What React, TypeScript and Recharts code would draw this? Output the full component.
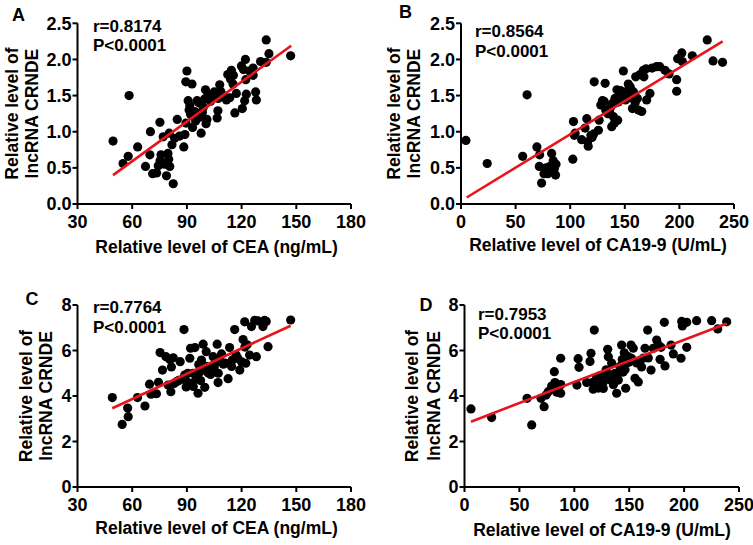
import React from 'react';
import { ScatterChart, Scatter, XAxis, YAxis } from 'recharts';

const FONT = '"Liberation Sans", Arial, Helvetica, sans-serif';

// Panel A: CEA vs CRNDE (0-2.5)
const pointsA = [
  [49.5, 0.87], [55, 0.56], [57.8, 0.66], [58.3, 1.5], [63, 0.79], [67.3, 0.52], [69.7, 0.68], [70, 1.0],
  [71.2, 0.42], [73.4, 0.43], [74.3, 0.53], [75.2, 1.13], [75.8, 0.68], [75.3, 0.6], [77, 0.93], [77.6, 0.55],
  [78.8, 0.39], [79.6, 0.7], [80.3, 0.98], [80.6, 0.52], [80, 0.62], [81.8, 0.82], [82.5, 0.28], [83.3, 0.91],
  [84.7, 1.17], [86, 0.94], [88.3, 0.79], [88.9, 0.96], [89.5, 1.12], [89.4, 1.69], [90, 1.84], [90.7, 1.43],
  [91.2, 1.3], [91.6, 1.36], [92.8, 1.66], [93.1, 1.06], [93.5, 1.22], [94.3, 1.28], [95.6, 1.43], [96, 1.24],
  [97.1, 1.2], [97.8, 0.98], [98.5, 1.27], [99.6, 1.45], [100.2, 1.58], [100.5, 1.11], [101, 1.17], [101.6, 1.52],
  [102.5, 1.48], [104.4, 1.5], [106.6, 1.19], [107, 1.29], [107.2, 1.46], [108, 1.65], [108.5, 1.56], [111.7, 1.44],
  [112.4, 1.79], [113.5, 1.47], [113.9, 1.73], [114.4, 1.85], [115.3, 1.66], [116.3, 1.26], [117.1, 1.53], [119.9, 1.91],
  [120.4, 1.32], [121.7, 1.43], [122.1, 2.0], [122.3, 1.72], [122.6, 1.52], [124.4, 1.84], [126.3, 1.88], [126.3, 1.78],
  [127.7, 1.55], [128.1, 1.44], [130.4, 1.97], [133.5, 2.27], [133.5, 1.96], [135, 2.08], [146.9, 2.05],
  [96.5, 1.4], [103, 1.42], [105, 1.55], [99, 1.34], [94.8, 1.15], [110, 1.5], [115.5, 1.78], [121, 1.86],
  [104.2, 1.46], [92, 1.24],
];
const lineA = [[49.5, 0.4], [147.2, 2.19]];

// Panel B: CA19-9 vs CRNDE (0-2.5)
const pointsB = [
  [4.5, 0.88], [24, 0.56], [56.5, 0.66], [60.5, 1.51], [69.5, 0.79], [72, 0.68], [71.7, 0.52], [73.8, 0.29],
  [76, 0.42], [78, 0.5], [79.5, 0.42], [81.5, 0.52], [83, 0.7], [84.5, 0.6], [85.5, 0.49], [86.6, 0.4],
  [87, 0.55], [102.4, 0.62], [103, 1.14], [103.8, 0.95], [104.5, 0.98], [110.5, 0.89], [113.6, 1.05], [115.2, 1.18],
  [116, 0.86], [116.5, 0.8], [119, 0.95], [121.5, 0.97], [122, 1.69], [125.8, 1.02], [126.5, 1.16], [128, 1.37],
  [129.5, 1.43], [132, 1.67], [132.5, 1.3], [134.5, 1.25], [136, 1.28], [138, 1.07], [138.6, 1.39], [139.5, 1.21],
  [140.5, 1.12], [141, 1.46], [142.8, 1.58], [143.5, 1.16], [145.5, 1.52], [147, 1.45], [148.7, 1.84], [149, 1.5],
  [150.5, 1.44], [152, 1.56], [153.2, 1.66], [155, 1.62], [156.3, 1.49], [157, 1.32], [158, 1.55], [159.5, 1.4],
  [160, 1.76], [161.5, 1.46], [162.5, 1.3], [164, 1.79], [165.5, 1.28], [167, 1.85], [169.5, 1.87], [170, 1.44],
  [173, 1.53], [175, 1.88], [179, 1.9], [182, 1.9], [186.8, 1.85], [190.5, 1.8], [197.5, 1.72], [197.5, 1.56],
  [198.4, 2.01], [202.2, 2.09], [202.7, 1.97], [211.8, 2.05], [225.5, 2.27], [230.8, 1.98], [239.5, 1.96],
  [144, 1.41], [151, 1.53], [137, 1.34], [131, 1.42], [146, 1.57], [154.5, 1.47], [167.5, 1.76], [120, 0.92],
];
const lineB = [[5.2, 0.09], [239.6, 2.25]];

// Panel C: CEA vs CRNDE (0-8)
const pointsC = [
  [49.1, 3.93], [54.5, 2.75], [57.5, 3.47], [57.8, 3.09], [62.9, 3.93], [67, 3.56], [69.5, 4.52], [70.3, 4.08],
  [73.3, 4.1], [74.4, 4.6], [75.3, 5.91], [76.6, 5.14], [78.5, 5.73], [79.7, 4.48], [80.6, 5.6], [81.2, 4.19],
  [81.5, 5.28], [82.5, 5.68], [84.3, 4.63], [86.3, 5.51], [88.4, 6.92], [88.8, 4.92], [89.6, 4.4], [90.5, 5.0],
  [91.6, 5.66], [92, 6.1], [92.4, 4.55], [93.4, 5.0], [94.4, 6.13], [95, 4.75], [96.1, 4.12], [97, 5.05],
  [98, 5.58], [98.9, 6.28], [99.8, 4.38], [100.6, 5.95], [101.5, 5.02], [102.5, 5.2], [104.4, 5.73], [106, 5.5],
  [106.6, 6.28], [107.1, 4.59], [107.2, 5.0], [108, 5.6], [110, 5.4], [112.6, 4.76], [113.4, 6.13], [114.5, 5.3],
  [114.9, 5.58], [116.2, 6.92], [117, 5.8], [119, 5.14], [120, 5.5], [120.8, 6.48], [121.7, 7.26], [121.8, 6.15],
  [122.3, 5.44], [123, 6.25], [124.4, 5.8], [125.4, 7.05], [127.2, 7.33], [128.1, 5.73], [129, 7.3], [131.7, 7.05],
  [132.6, 7.32], [133.5, 7.28], [134.5, 6.17], [146.9, 7.34],
  [95.5, 4.85], [97.5, 4.68], [103, 4.95], [105, 5.25], [109, 5.85], [111, 5.45], [118, 5.65], [100.5, 5.3],
  [93.5, 4.42], [90.2, 4.62], [86, 4.7], [83, 4.55], [85.5, 4.68], [96.5, 5.38],
];
const lineC = [[49.1, 3.46], [146.9, 7.09]];

// Panel D: CA19-9 vs CRNDE (0-8)
const pointsD = [
  [5.9, 3.43], [24.7, 3.05], [57, 3.9], [61.2, 2.73], [69.7, 3.9], [72.5, 3.53], [74.3, 4.04], [76.3, 4.19],
  [79.4, 4.44], [81.8, 5.07], [82.4, 4.59], [84, 4.17], [85.5, 4.43], [87.6, 5.66], [87.6, 4.12], [87.7, 4.5],
  [102.4, 4.48], [103.5, 5.64], [104.3, 5.26], [111.3, 4.59], [114.3, 5.52], [115.2, 5.88], [116.3, 4.59], [117.2, 4.3],
  [118.2, 6.9], [118.8, 4.57], [120.3, 4.8], [122, 4.35], [123.6, 4.9], [125.1, 4.55], [126.4, 4.33], [128, 4.85],
  [129, 5.15], [130.4, 6.05], [131, 5.73], [132.5, 4.93], [134, 5.45], [135.6, 4.5], [137, 5.0], [138.6, 4.12],
  [140.1, 4.7], [141.6, 5.3], [143.1, 6.24], [143.7, 5.6], [145.5, 5.9], [146.2, 5.15], [146.8, 4.34], [147.6, 5.45],
  [149, 5.73], [151.6, 6.24], [152.2, 5.65], [153.7, 6.1], [155.3, 4.78], [156.8, 5.45], [158.3, 4.62], [159.8, 5.53],
  [161.3, 5.28], [162.9, 5.67], [164.4, 6.1], [166.8, 6.9], [167.4, 5.67], [169.9, 5.14], [172, 6.1], [175, 6.46],
  [176.5, 6.25], [178.1, 5.61], [179, 6.14], [182, 7.24], [182.6, 5.32], [188.1, 6.24], [190.2, 5.85], [197.2, 5.66],
  [197.8, 7.28], [198.4, 7.08], [202.4, 7.24], [202.4, 6.14], [211.4, 7.31], [225.1, 7.31], [230.6, 6.95], [238.8, 7.26],
  [133.5, 4.7], [139, 4.85], [127, 4.65], [144.5, 5.05], [150, 5.5], [121, 4.45],
];
const lineD = [[5.9, 2.87], [238.8, 7.19]];

const ticksCEA = [30, 60, 90, 120, 150, 180];
const ticksCA199 = [0, 50, 100, 150, 200, 250];
const ticksLow = [0, 0.5, 1.0, 1.5, 2.0, 2.5];
const ticksHigh = [0, 2, 4, 6, 8];

const toObjs = (arr: number[][]) => arr.map(([x, y]) => ({ x, y }));

const tickStyle = { fill: '#000', fontSize: 18, fontWeight: 'bold', fontFamily: FONT };
const axisStroke = { stroke: '#000', strokeWidth: 2 };

type PanelProps = {
  left: number; top: number; width: number; height: number;
  marginTop: number; marginRight: number; yWidth: number; xHeight: number;
  points: number[][]; line: number[][];
  xTicks: number[]; yTicks: number[]; yFmt: (v: number) => string;
};

const Dot = (p: any) => <circle cx={p.cx} cy={p.cy} r={4.6} fill="#000" />;
const NoDot = () => <g />;

function Panel(props: PanelProps) {
  const { left, top, width, height, marginTop, marginRight, yWidth, xHeight, points, line, xTicks, yTicks, yFmt } = props;
  return (
    <div style={{ position: 'absolute', left, top, width, height }}>
      <ScatterChart width={width} height={height} margin={{ top: marginTop, right: marginRight, left: 0, bottom: 0 }}>
        <XAxis
          type="number" dataKey="x" domain={[xTicks[0], xTicks[xTicks.length - 1]]} ticks={xTicks} interval={0}
          height={xHeight} tickSize={5} tickMargin={6} axisLine={axisStroke} tickLine={axisStroke} tick={tickStyle}
          allowDataOverflow
        />
        <YAxis
          type="number" dataKey="y" domain={[yTicks[0], yTicks[yTicks.length - 1]]} ticks={yTicks} interval={0}
          width={yWidth} tickSize={5} tickMargin={1} axisLine={axisStroke} tickLine={axisStroke} tick={tickStyle}
          tickFormatter={yFmt} allowDataOverflow
        />
        <Scatter data={toObjs(points)} shape={Dot} isAnimationActive={false} />
        <Scatter data={toObjs(line)} shape={NoDot} line={{ stroke: '#e8141c', strokeWidth: 2.6 }} isAnimationActive={false} />
      </ScatterChart>
    </div>
  );
}

const fmt1 = (v: number) => v.toFixed(1);
const fmt0 = (v: number) => String(v);

const txt = { fontFamily: FONT, fontWeight: 'bold' as const, fontSize: 17.5, fill: '#000' };
const stat = { ...txt, fontSize: 17 };
const letter = { ...txt, fontSize: 18 };

function YTitle({ x1, x2, cy }: { x1: number; x2: number; cy: number }) {
  return (
    <g>
      <text transform={`translate(${x1},${cy}) rotate(-90)`} textAnchor="middle" style={txt}>Relative level of</text>
      <text transform={`translate(${x2},${cy}) rotate(-90)`} textAnchor="middle" style={txt}>lncRNA CRNDE</text>
    </g>
  );
}

function Stat({ x, y1, y2, r }: { x: number; y1: number; y2: number; r: string }) {
  return (
    <g>
      <text x={x} y={y1} style={stat}>{r}</text>
      <text x={x} y={y2} style={stat}>P&lt;0.0001</text>
    </g>
  );
}

export default function App() {
  return (
    <div style={{ position: 'absolute', left: 0, top: 0, width: 753, height: 545, background: '#fff', overflow: 'hidden' }}>
      <Panel left={0} top={0} width={376} height={270} marginTop={23.3} marginRight={25} yWidth={77.5} xHeight={66}
        points={pointsA} line={lineA} xTicks={ticksCEA} yTicks={ticksLow} yFmt={fmt1} />
      <Panel left={376} top={0} width={377} height={270} marginTop={23.3} marginRight={19} yWidth={85} xHeight={66}
        points={pointsB} line={lineB} xTicks={ticksCA199} yTicks={ticksLow} yFmt={fmt1} />
      <Panel left={0} top={270} width={376} height={275} marginTop={35} marginRight={25} yWidth={77.5} xHeight={58}
        points={pointsC} line={lineC} xTicks={ticksCEA} yTicks={ticksHigh} yFmt={fmt0} />
      <Panel left={376} top={270} width={377} height={275} marginTop={35} marginRight={14} yWidth={88.5} xHeight={58}
        points={pointsD} line={lineD} xTicks={ticksCA199} yTicks={ticksHigh} yFmt={fmt0} />
      <svg width={753} height={545} style={{ position: 'absolute', left: 0, top: 0, pointerEvents: 'none' }}>
        <text x={18.5} y={21} textAnchor="middle" style={letter}>A</text>
        <text x={405.5} y={18} textAnchor="middle" style={letter}>B</text>
        <text x={32} y={305} textAnchor="middle" style={letter}>C</text>
        <text x={426} y={311} textAnchor="middle" style={letter}>D</text>

        <Stat x={93} y1={32} y2={51} r="r=0.8174" />
        <Stat x={475} y1={37} y2={57} r="r=0.8564" />
        <Stat x={93} y1={313} y2={333} r="r=0.7764" />
        <Stat x={478} y1={320} y2={339} r="r=0.7953" />

        <YTitle x1={18} x2={38} cy={113.6} />
        <YTitle x1={400} x2={420} cy={113.6} />
        <YTitle x1={32} x2={52} cy={396} />
        <YTitle x1={418} x2={440} cy={396} />

        <text x={216.5} y={253} textAnchor="middle" style={txt}>Relative level of CEA (ng/mL)</text>
        <text x={598} y={251} textAnchor="middle" style={txt}>Relative level of CA19-9 (U/mL)</text>
        <text x={216.5} y={534} textAnchor="middle" style={txt}>Relative level of CEA (ng/mL)</text>
        <text x={602} y={536} textAnchor="middle" style={txt}>Relative level of CA19-9 (U/mL)</text>
      </svg>
    </div>
  );
}
